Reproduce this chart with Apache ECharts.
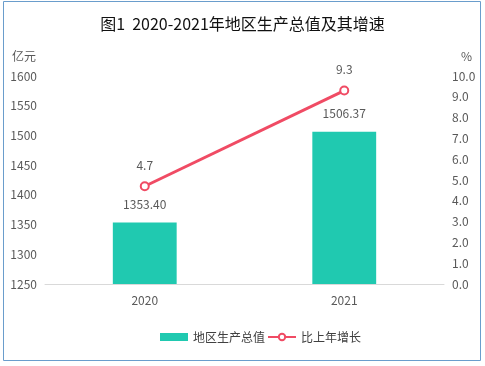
<!DOCTYPE html>
<html><head><meta charset="utf-8">
<script src="https://cdn.jsdelivr.net/npm/echarts@6/dist/echarts.min.js"></script>
<style>html,body{margin:0;padding:0;background:#fff}#c{width:485px;height:366px}</style>
</head><body><div id="c"></div>
<script>
const categories = ['2020', '2021'];
const gdpValues = [1353.40, 1506.37];
const growthValues = [4.7, 9.3];
const gdpLabels = ['1353.40', '1506.37'];

const chart = echarts.init(document.getElementById('c'), null, {renderer: 'canvas'});
const font = '"Noto Sans CJK SC", "Noto Sans", sans-serif';
chart.setOption({
  animation: false,
  textStyle: {fontFamily: font},
  graphic: [{type: 'rect', shape: {x: 3.5, y: 1.5, width: 477, height: 359}, style: {fill: 'none', stroke: '#6a9dcc', lineWidth: 1}, silent: true}],
  title: {text: '图1  2020-2021年地区生产总值及其增速', left: 'center', top: 11, textStyle: {fontSize: 16, fontWeight: 'normal', color: '#111', fontFamily: font}},
  grid: {left: 45, right: 41, top: 76, bottom: 82},
  legend: {bottom: 18, left: 155, itemGap: 2, itemWidth: 28, itemHeight: 8, textStyle: {fontSize: 12, color: '#404040', fontFamily: font},
    data: [{name: '地区生产总值', icon: 'rect'}, {name: '比上年增长'}]},
  xAxis: {type: 'category', data: categories, axisLine: {lineStyle: {color: '#d9d9d9'}}, axisTick: {show: false},
    axisLabel: {color: '#595959', fontSize: 12, margin: 10}},
  yAxis: [
    {type: 'value', min: 1250, max: 1600, interval: 50, name: '亿元', nameLocation: 'end', nameGap: 14,
     nameTextStyle: {color: '#595959', fontSize: 12, align: 'left', padding: [0, 0, 0, -33]},
     axisLine: {show: false}, axisTick: {show: false}, splitLine: {show: false},
     axisLabel: {color: '#595959', fontSize: 12, margin: 8, formatter: v => String(v)}},
    {type: 'value', min: 0, max: 10, interval: 1, name: '%', nameLocation: 'end', nameGap: 14,
     nameTextStyle: {color: '#595959', fontSize: 12, align: 'right', padding: [0, -28, 0, 0]},
     axisLine: {show: false}, axisTick: {show: false}, splitLine: {show: false},
     axisLabel: {color: '#595959', fontSize: 12, margin: 8, formatter: v => v.toFixed(1)}}
  ],
  series: [
    {name: '地区生产总值', type: 'bar', data: gdpValues, barWidth: '32%', itemStyle: {color: '#20c9b0'},
     label: {show: true, position: 'top', distance: 12, color: '#595959', fontSize: 12, formatter: p => gdpLabels[p.dataIndex]}},
    {name: '比上年增长', type: 'line', yAxisIndex: 1, data: growthValues, symbol: 'circle', symbolSize: 8,
     lineStyle: {color: '#f04b64', width: 3}, itemStyle: {color: '#fff', borderColor: '#f04b64', borderWidth: 2},
     label: {show: true, position: 'top', distance: 10, color: '#595959', fontSize: 12, formatter: p => p.value.toFixed(1)}}
  ]
});
</script></body></html>
